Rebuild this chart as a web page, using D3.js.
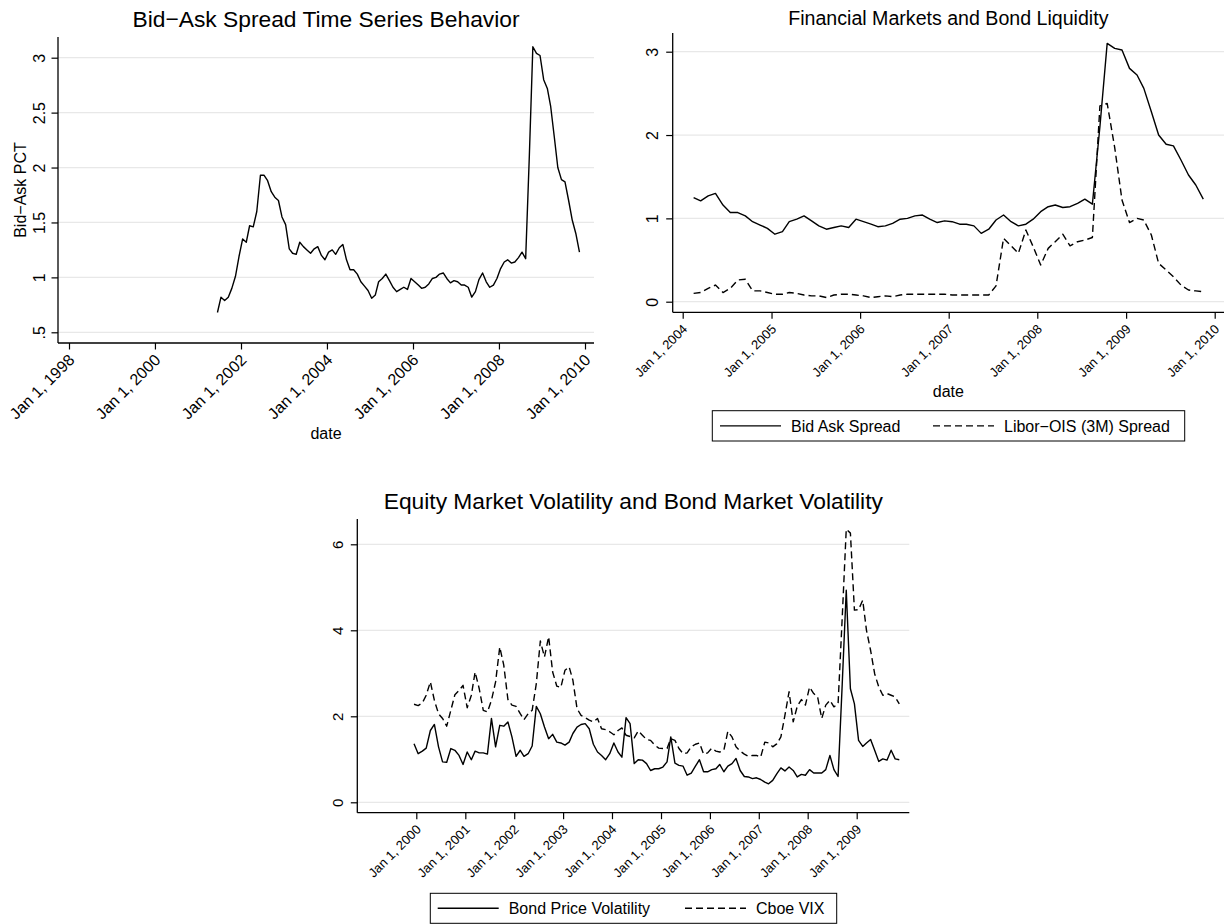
<!DOCTYPE html>
<html>
<head>
<meta charset="utf-8">
<script src="https://cdn.jsdelivr.net/npm/d3@7"></script>
<style>
body{margin:0;background:#fff;}
svg{font-family:"Liberation Sans", Arial, Helvetica, sans-serif;}
</style>
</head>
<body>
<div id="graph_here"></div>
<script>
// monthly bid-ask spread (pct), Jun 2001 .. Nov 2009
const bidAskStart = [2001, 5];
const bidAsk = [
  0.68, 0.82, 0.79, 0.82, 0.90, 1.01, 1.19,
  1.35, 1.32, 1.47, 1.46, 1.60, 1.93, 1.93, 1.88, 1.78, 1.73, 1.70, 1.55,
  1.48, 1.26, 1.22, 1.21, 1.32, 1.28, 1.25, 1.22, 1.26, 1.28, 1.20, 1.16,
  1.23, 1.25, 1.21, 1.27, 1.30, 1.16, 1.07, 1.07, 1.03, 0.96, 0.92, 0.88,
  0.81, 0.84, 0.96, 0.99, 1.03, 0.97, 0.91, 0.87, 0.89, 0.91, 0.89, 0.99,
  0.96, 0.93, 0.90, 0.91, 0.94, 0.99, 1.00, 1.03, 1.04, 0.99, 0.95, 0.97,
  0.96, 0.93, 0.93, 0.91, 0.82, 0.87, 0.98, 1.04, 0.96, 0.91, 0.93, 0.99,
  1.08, 1.14, 1.16, 1.13, 1.14, 1.18, 1.23, 1.17, 2.10, 3.10, 3.04, 3.02,
  2.80, 2.72, 2.56, 2.28, 2.00, 1.89, 1.87, 1.70, 1.52, 1.40, 1.23
];
// monthly Libor-OIS 3M spread, Feb 2004 .. Nov 2009
const liborStart = [2004, 1];
const liborOis = [
  0.10, 0.11, 0.16, 0.20, 0.11, 0.16, 0.26, 0.27, 0.13, 0.13, 0.11,
  0.09, 0.09, 0.11, 0.10, 0.08, 0.07, 0.07, 0.05, 0.08, 0.09, 0.09, 0.08,
  0.07, 0.05, 0.06, 0.07, 0.06, 0.08, 0.09, 0.09, 0.09, 0.09, 0.09, 0.09,
  0.08, 0.08, 0.08, 0.08, 0.08, 0.08, 0.19, 0.76, 0.67, 0.58, 0.86, 0.66,
  0.44, 0.64, 0.72, 0.81, 0.67, 0.72, 0.74, 0.77, 2.35, 2.38, 1.85, 1.22,
  0.95, 1.00, 0.98, 0.80, 0.46, 0.38, 0.30, 0.20, 0.14, 0.13, 0.12
];
// monthly bond price volatility and VIX, Dec 1999 .. Nov 2009
const volStart = [1999, 11];
const bondVol = [
  1.36, 1.13, 1.19, 1.26, 1.67, 1.81, 1.29, 0.94, 0.93, 1.25, 1.21, 1.09,
  0.88, 1.17, 0.99, 1.19, 1.15, 1.15, 1.12, 1.95, 1.29, 1.79, 1.77, 1.87,
  1.52, 1.07, 1.21, 1.07, 1.13, 1.31, 2.23, 2.06, 1.75, 1.48, 1.58, 1.40,
  1.38, 1.33, 1.40, 1.60, 1.75, 1.81, 1.83, 1.71, 1.35, 1.17, 1.09, 0.99,
  1.13, 1.38, 1.17, 1.05, 1.97, 1.83, 0.90, 0.99, 0.98, 0.90, 0.74, 0.78,
  0.78, 0.82, 0.94, 1.52, 0.91, 0.86, 0.84, 0.63, 0.68, 0.84, 0.99, 0.71,
  0.71, 0.76, 0.78, 0.88, 0.71, 0.84, 0.90, 1.02, 0.74, 0.60, 0.59, 0.55,
  0.57, 0.53, 0.47, 0.43, 0.51, 0.66, 0.80, 0.73, 0.82, 0.74, 0.59, 0.65,
  0.63, 0.76, 0.68, 0.68, 0.68, 0.76, 1.09, 0.76, 0.60, 2.75, 4.93, 2.64,
  2.29, 1.44, 1.30, 1.38, 1.46, 1.21, 0.95, 1.01, 0.98, 1.21, 1.01, 0.99
];
const vix = [
  2.28, 2.25, 2.31, 2.49, 2.80, 2.37, 2.06, 1.95, 1.77, 2.14, 2.50, 2.60,
  2.72, 2.20, 2.49, 3.03, 2.64, 2.14, 2.10, 2.37, 2.80, 3.61, 3.19, 2.39,
  2.26, 2.23, 2.06, 1.92, 2.06, 2.14, 2.76, 3.75, 3.38, 3.85, 3.03, 2.70,
  2.67, 3.07, 3.15, 2.84, 2.18, 2.02, 1.97, 1.91, 1.87, 1.95, 1.71, 1.69,
  1.64, 1.57, 1.67, 1.73, 1.56, 1.53, 1.50, 1.66, 1.56, 1.46, 1.44, 1.33,
  1.26, 1.25, 1.25, 1.48, 1.44, 1.25, 1.13, 1.15, 1.29, 1.35, 1.38, 1.12,
  1.15, 1.26, 1.19, 1.17, 1.21, 1.65, 1.52, 1.29, 1.19, 1.12, 1.07, 1.09,
  1.09, 1.05, 1.40, 1.38, 1.29, 1.36, 1.52, 2.02, 2.57, 1.87, 2.23, 2.39,
  2.26, 2.68, 2.53, 2.45, 1.95, 2.26, 2.37, 2.22, 2.29, 4.30, 6.35, 6.26,
  4.47, 4.48, 4.70, 4.00, 3.53, 2.99, 2.68, 2.49, 2.53, 2.49, 2.45, 2.29
];

// ticks
const p1XYears = [1998, 2000, 2002, 2004, 2006, 2008, 2010];
const p1XLabels = ["Jan 1, 1998", "Jan 1, 2000", "Jan 1, 2002", "Jan 1, 2004", "Jan 1, 2006", "Jan 1, 2008", "Jan 1, 2010"];
const p1YTicks = [0.5, 1, 1.5, 2, 2.5, 3];
const p1YLabels = [".5", "1", "1.5", "2", "2.5", "3"];
const p2XYears = [2004, 2005, 2006, 2007, 2008, 2009, 2010];
const p2XLabels = ["Jan 1, 2004", "Jan 1, 2005", "Jan 1, 2006", "Jan 1, 2007", "Jan 1, 2008", "Jan 1, 2009", "Jan 1, 2010"];
const p2YTicks = [0, 1, 2, 3];
const p2YLabels = ["0", "1", "2", "3"];
const p3XYears = [2000, 2001, 2002, 2003, 2004, 2005, 2006, 2007, 2008, 2009];
const p3XLabels = ["Jan 1, 2000", "Jan 1, 2001", "Jan 1, 2002", "Jan 1, 2003", "Jan 1, 2004", "Jan 1, 2005", "Jan 1, 2006", "Jan 1, 2007", "Jan 1, 2008", "Jan 1, 2009"];
const p3YTicks = [0, 2, 4, 6];
const p3YLabels = ["0", "2", "4", "6"];

function monthly(start, values){
    // data points sit in the middle of each month
    return values.map((v, i) => ({date: new Date(start[0], start[1] + i, 15), value: v}));
}

function drawall(){
    const svg = d3.select('#graph_here')
        .append('svg')
        .attr('width', 1224)
        .attr('height', 924)
        .attr('style', 'background-color: white');

    function panel(p){
        const g = svg.append('g');
        const xTicks = p.xYears.map(y => new Date(y, 0, 1));

        // grid
        g.selectAll('line.grid')
            .data(p.yTicks)
            .enter()
            .append('line')
            .attr('x1', p.left).attr('x2', p.right)
            .attr('y1', d => p.y(d)).attr('y2', d => p.y(d))
            .attr('stroke', '#e8e8e8')
            .attr('stroke-width', 1.3);

        // y axis
        const yAxis = d3.axisLeft(p.y)
            .tickValues(p.yTicks)
            .tickSize(6.5)
            .tickFormat(d => p.yLabels[p.yTicks.indexOf(d)]);
        const ya = g.append('g')
            .attr('transform', 'translate(' + p.left + ',0)')
            .call(yAxis)
            .attr('font-family', null)
            .attr('font-size', p.yFont);
        ya.select('.domain').remove();
        ya.selectAll('.tick line').attr('stroke', '#000').attr('stroke-width', 1.2);
        ya.selectAll('.tick text')
            .attr('x', null).attr('dy', null)
            .attr('fill', '#000')
            .attr('text-anchor', 'middle')
            .attr('transform', 'translate(' + (-p.yLabelOff) + ',0) rotate(-90)');

        // x axis
        const xAxis = d3.axisBottom(p.x)
            .tickValues(xTicks)
            .tickSize(6.5)
            .tickFormat(d => p.xLabels[xTicks.indexOf(d)]);
        const xa = g.append('g')
            .attr('transform', 'translate(0,' + p.bottom + ')')
            .call(xAxis)
            .attr('font-family', null)
            .attr('font-size', p.xFont);
        xa.select('.domain').remove();
        xa.selectAll('.tick line').attr('stroke', '#000').attr('stroke-width', 1.2);
        xa.selectAll('.tick text')
            .attr('y', null).attr('dy', null)
            .attr('fill', '#000')
            .attr('text-anchor', 'end')
            .attr('transform', 'translate(' + p.xLabelDx + ',' + p.xLabelDy + ') rotate(-45)');

        // axis lines
        g.append('line')
            .attr('x1', p.left).attr('x2', p.left).attr('y1', p.top).attr('y2', p.bottom)
            .attr('stroke', '#000').attr('stroke-width', 1.3);
        g.append('line')
            .attr('x1', p.left).attr('x2', p.right).attr('y1', p.bottom).attr('y2', p.bottom)
            .attr('stroke', '#000').attr('stroke-width', 1.3);

        // series
        const line = d3.line()
            .x(d => p.x(d.date))
            .y(d => p.y(d.value));
        p.series.forEach(s => {
            g.append('path')
                .attr('d', line(s.data))
                .attr('fill', 'none')
                .attr('stroke', '#000')
                .attr('stroke-width', 1.4)
                .attr('stroke-linejoin', 'round')
                .attr('stroke-dasharray', s.dash ? '7,4' : null);
        });

        // title
        g.append('text')
            .attr('x', (p.left + p.right) / 2)
            .attr('y', p.titleY)
            .attr('text-anchor', 'middle')
            .style('font-size', p.titleFont + 'px')
            .text(p.title);

        if (p.xTitle){
            g.append('text')
                .attr('x', (p.left + p.right) / 2)
                .attr('y', p.xTitleY)
                .attr('text-anchor', 'middle')
                .style('font-size', '16px')
                .text(p.xTitle);
        }
        if (p.yTitle){
            g.append('text')
                .attr('transform', 'translate(' + p.yTitleX + ',' + ((p.top + p.bottom) / 2) + ') rotate(-90)')
                .attr('text-anchor', 'middle')
                .style('font-size', '16px')
                .text(p.yTitle);
        }

        // legend
        if (p.legend){
            const L = p.legend;
            g.append('rect')
                .attr('x', L.x).attr('y', L.y).attr('width', L.w).attr('height', L.h)
                .attr('fill', '#fff').attr('stroke', '#000').attr('stroke-width', 1);
            L.items.forEach(it => {
                g.append('line')
                    .attr('x1', it.x).attr('x2', it.x + 61)
                    .attr('y1', L.y + L.h / 2).attr('y2', L.y + L.h / 2)
                    .attr('stroke', '#000').attr('stroke-width', 1.4)
                    .attr('stroke-dasharray', it.dash ? '7,4' : null);
                g.append('text')
                    .attr('x', it.x + 71)
                    .attr('y', L.y + L.h / 2 + 6)
                    .style('font-size', '16px')
                    .text(it.label);
            });
        }
    }

    const bidAskData = monthly(bidAskStart, bidAsk);
    const liborData = monthly(liborStart, liborOis);
    const bidAsk2004 = bidAskData.filter(d => d.date >= new Date(2004, 1, 1));

    // top left
    panel({
        left: 58, right: 594, top: 37, bottom: 343,
        x: d3.scaleTime().domain([new Date(1998, 0, 1), new Date(2010, 0, 1)]).range([69, 585]),
        y: d3.scaleLinear().domain([0.5, 3]).range([332.3, 57.7]),
        xYears: p1XYears, xLabels: p1XLabels, yTicks: p1YTicks, yLabels: p1YLabels,
        yFont: 16, xFont: 16, yLabelOff: 13.3, xLabelDx: 6, xLabelDy: 18,
        series: [{data: bidAskData}],
        title: 'Bid\u2212Ask Spread Time Series Behavior', titleY: 26.7, titleFont: 22.8,
        xTitle: 'date', xTitleY: 439,
        yTitle: 'Bid\u2212Ask PCT', yTitleX: 26
    });

    // top right
    panel({
        left: 672.7, right: 1224, top: 33, bottom: 312.3,
        x: d3.scaleTime().domain([new Date(2004, 0, 1), new Date(2010, 0, 1)]).range([682.7, 1214.7]),
        y: d3.scaleLinear().domain([0, 3]).range([301.7, 51.7]),
        xYears: p2XYears, xLabels: p2XLabels, yTicks: p2YTicks, yLabels: p2YLabels,
        yFont: 16, xFont: 13, yLabelOff: 14.4, xLabelDx: 5, xLabelDy: 17.5,
        series: [{data: bidAsk2004}, {data: liborData, dash: true}],
        title: 'Financial Markets and Bond Liquidity', titleY: 25, titleFont: 19.6,
        xTitle: 'date', xTitleY: 396.5,
        legend: {x: 712.3, y: 410.7, w: 472.4, h: 30.3,
                 items: [{x: 720, label: 'Bid Ask Spread'}, {x: 933, label: 'Libor\u2212OIS (3M) Spread', dash: true}]}
    });

    // bottom
    panel({
        left: 357.3, right: 909.3, top: 519, bottom: 812.7,
        x: d3.scaleTime().domain([new Date(2000, 0, 1), new Date(2009, 0, 1)]).range([416.3, 856.7]),
        y: d3.scaleLinear().domain([0, 6]).range([802.3, 544.3]),
        xYears: p3XYears, xLabels: p3XLabels, yTicks: p3YTicks, yLabels: p3YLabels,
        yFont: 15, xFont: 13, yLabelOff: 14, xLabelDx: 5, xLabelDy: 17.5,
        series: [{data: monthly(volStart, bondVol)}, {data: monthly(volStart, vix), dash: true}],
        title: 'Equity Market Volatility and Bond Market Volatility', titleY: 509, titleFont: 22.8,
        legend: {x: 430.3, y: 893.3, w: 406.4, h: 30,
                 items: [{x: 437.7, label: 'Bond Price Volatility'}, {x: 685, label: 'Cboe VIX', dash: true}]}
    });
}

window.addEventListener('load', drawall);
</script>
</body>
</html>
